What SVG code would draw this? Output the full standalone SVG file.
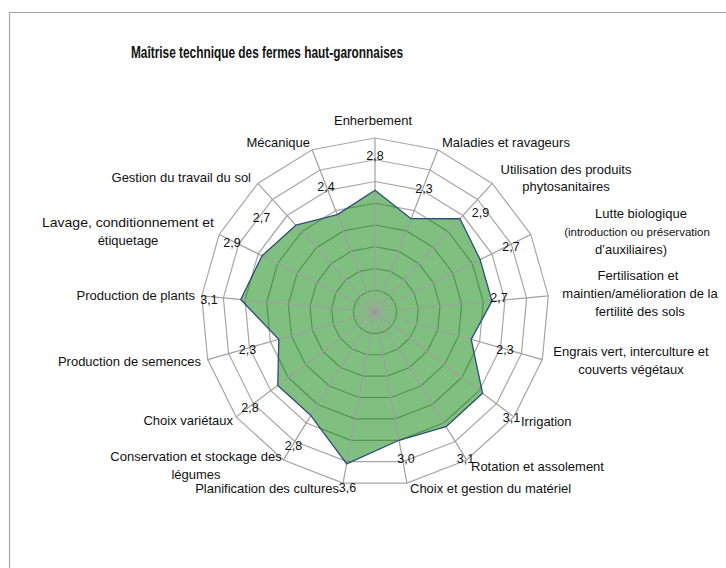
<svg xmlns="http://www.w3.org/2000/svg" xmlns:xlink="http://www.w3.org/1999/xlink" width="726" height="568" viewBox="0 0 726 568">
<style>
  .lbl { font-family: "Liberation Sans", Arial, sans-serif; font-size: 13px; fill: #111; }
  .val { font-family: "Liberation Sans", Arial, sans-serif; font-size: 12.5px; fill: #111; text-anchor: middle; }
  .title { font-family: "Liberation Sans", Arial, sans-serif; font-size: 17px; font-weight: bold; fill: #111; }
  .ring { fill: none; stroke: #a6a6a6; }
  .spoke { stroke: #a0a0a0; stroke-width: 1.2; fill: none; }
  .mid { text-anchor: middle; }
  .end { text-anchor: end; }
</style>
<defs>
  <polygon id="ring" points="0,-174 62.86,-162.25 117.22,-128.59 155.76,-77.56 173.26,-16.05 167.36,47.62 138.86,104.86 91.6,147.94 31.97,171.04 -31.97,171.04 -91.6,147.94 -138.86,104.86 -167.36,47.62 -173.26,-16.05 -155.76,-77.56 -117.22,-128.59 -62.86,-162.25"/>
</defs>
<rect x="0" y="0" width="726" height="568" fill="#ffffff"/>
<path d="M9.5,568 V12.5 H726" fill="none" stroke="#a6a6a6" stroke-width="1.2"/>
<text class="title" x="131" y="58" textLength="272" lengthAdjust="spacingAndGlyphs">Maîtrise technique des fermes haut-garonnaises</text>

<g id="grid">
  <use xlink:href="#ring" class="ring" transform="translate(375 312) scale(0.125)" stroke-width="9.6"/>
  <use xlink:href="#ring" class="ring" transform="translate(375 312) scale(0.25)" stroke-width="4.8"/>
  <use xlink:href="#ring" class="ring" transform="translate(375 312) scale(0.375)" stroke-width="3.2"/>
  <use xlink:href="#ring" class="ring" transform="translate(375 312) scale(0.5)" stroke-width="2.4"/>
  <use xlink:href="#ring" class="ring" transform="translate(375 312) scale(0.625)" stroke-width="1.92"/>
  <use xlink:href="#ring" class="ring" transform="translate(375 312) scale(0.75)" stroke-width="1.6"/>
  <use xlink:href="#ring" class="ring" transform="translate(375 312) scale(0.875)" stroke-width="1.37"/>
  <use xlink:href="#ring" class="ring" transform="translate(375 312)" stroke-width="1.2"/>
</g>

<g id="serie-fill">
  <polygon points="375,190.2 411.14,218.71 459.99,218.77 480.14,259.65 491.95,301.16 471.23,339.38 482.61,393.27 445.99,426.65 398.98,440.28 346.62,463.8 310.88,415.56 277.8,385.4 278.77,339.38 240.73,299.56 262.08,255.77 295.87,225.2 337.29,214.65" fill="#008000" fill-opacity="0.5" stroke="none"/>
</g>

<g id="spokes" transform="translate(375 312)">
  <path class="spoke" d="M0,0 L0,-174 M0,0 L62.86,-162.25 M0,0 L117.22,-128.59 M0,0 L155.76,-77.56 M0,0 L173.26,-16.05 M0,0 L167.36,47.62 M0,0 L138.86,104.86 M0,0 L91.6,147.94 M0,0 L31.97,171.04 M0,0 L-31.97,171.04 M0,0 L-91.6,147.94 M0,0 L-138.86,104.86 M0,0 L-167.36,47.62 M0,0 L-173.26,-16.05 M0,0 L-155.76,-77.56 M0,0 L-117.22,-128.59 M0,0 L-62.86,-162.25"/>
  <circle cx="0" cy="0" r="3" fill="#999999"/>
</g>

<g id="serie-line">
  <polygon points="375,190.2 411.14,218.71 459.99,218.77 480.14,259.65 491.95,301.16 471.23,339.38 482.61,393.27 445.99,426.65 398.98,440.28 346.62,463.8 310.88,415.56 277.8,385.4 278.77,339.38 240.73,299.56 262.08,255.77 295.87,225.2 337.29,214.65" fill="none" stroke="#2f4b7c" stroke-width="1.3" stroke-linejoin="round"/>
</g>

<g id="values">
  <text class="val" x="375" y="160">2,8</text>
  <text class="val" x="424" y="192.5">2,3</text>
  <text class="val" x="480.5" y="216.5">2,9</text>
  <text class="val" x="511" y="250.5">2,7</text>
  <text class="val" x="499" y="301.5">2,7</text>
  <text class="val" x="505" y="353.5">2,3</text>
  <text class="val" x="511.5" y="421.5">3,1</text>
  <text class="val" x="465.5" y="462.5">3,1</text>
  <text class="val" x="406" y="462.5">3,0</text>
  <text class="val" x="347.5" y="491.5">3,6</text>
  <text class="val" x="293.5" y="449.5">2,8</text>
  <text class="val" x="250" y="411.5">2,8</text>
  <text class="val" x="247.5" y="353.5">2,3</text>
  <text class="val" x="209" y="303.5">3,1</text>
  <text class="val" x="232" y="246.5">2,9</text>
  <text class="val" x="261.5" y="221.5">2,7</text>
  <text class="val" x="326" y="190.5">2,4</text>
</g>

<g id="n0"><text class="lbl mid" x="373" y="125">Enherbement</text></g>
<g id="n1"><text class="lbl" x="442" y="147">Maladies et ravageurs</text></g>
<g id="n2"><text class="lbl mid" x="566" y="174"><tspan x="566">Utilisation des produits</tspan><tspan x="566" dy="17">phytosanitaires</tspan></text></g>
<g id="n3">
  <text class="lbl mid" x="641" y="218">Lutte biologique</text>
  <text class="lbl mid" x="637" y="236" style="font-size:11.5px">(introduction ou préservation</text>
  <text class="lbl mid" x="631" y="254">d’auxiliaires)</text>
</g>
<g id="n4"><text class="lbl mid" x="640" y="280"><tspan x="638">Fertilisation et</tspan><tspan x="640" dy="18">maintien/amélioration de la</tspan><tspan x="640" dy="18">fertilité des sols</tspan></text></g>
<g id="n5"><text class="lbl mid" x="631" y="356"><tspan x="631">Engrais vert, interculture et</tspan><tspan x="631" dy="18">couverts végétaux</tspan></text></g>
<g id="n6"><text class="lbl" x="521" y="426">Irrigation</text></g>
<g id="n7"><text class="lbl" x="471" y="471">Rotation et assolement</text></g>
<g id="n8"><text class="lbl" x="410" y="493">Choix et gestion du matériel</text></g>
<g id="n9"><text class="lbl end" x="339" y="493">Planification des cultures</text></g>
<g id="n10"><text class="lbl mid" x="196" y="461"><tspan x="196">Conservation et stockage des</tspan><tspan x="196" dy="18">légumes</tspan></text></g>
<g id="n11"><text class="lbl end" x="233" y="425">Choix variétaux</text></g>
<g id="n12"><text class="lbl end" x="201" y="366">Production de semences</text></g>
<g id="n13"><text class="lbl end" x="195" y="299.5">Production de plants</text></g>
<g id="n14">
  <text class="lbl" x="42" y="227" textLength="172" lengthAdjust="spacingAndGlyphs">Lavage, conditionnement et</text>
  <text class="lbl mid" x="128" y="245">étiquetage</text>
</g>
<g id="n15"><text class="lbl end" x="251" y="182">Gestion du travail du sol</text></g>
<g id="n16"><text class="lbl end" x="310" y="147">Mécanique</text></g>
</svg>
